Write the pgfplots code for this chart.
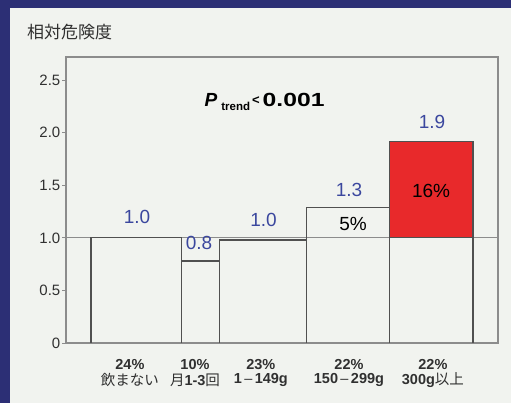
\documentclass[border=0pt]{standalone}
\usepackage{pgfplots}
\pgfplotsset{compat=1.18}
\usepackage{fontspec}
\setmainfont{Liberation Sans}
\newfontfamily\jp{Noto Sans CJK JP}
\definecolor{navy}{HTML}{2C2F75}
\definecolor{panel}{HTML}{F1F3EF}
\definecolor{framegray}{HTML}{8C8C8C}
\definecolor{bargray}{HTML}{505050}
\definecolor{darktext}{HTML}{303030}
\definecolor{valblue}{HTML}{3B479E}
\definecolor{barred}{HTML}{E8292B}
\begin{document}
\begin{tikzpicture}
\fill[navy] (0,0) rectangle (511pt,403pt);
\fill[panel] (10pt,0) rectangle (511pt,395pt);
\useasboundingbox (0,0) rectangle (511pt,403pt);
\node[anchor=west, font=\jp\fontsize{17}{17}\selectfont, text=darktext, inner sep=0pt] at (27pt,371pt) {相対危険度};
\begin{axis}[
  at={(66pt,60pt)}, anchor=south west, scale only axis,
  width=432pt, height=286pt,
  xmin=-6.6, xmax=107.6, ymin=0, ymax=2.72,
  axis line style={draw=framegray, line width=1.2pt},
  xtick=\empty,
  ytick={0,0.5,1,1.5,2,2.5},
  yticklabels={0,0.5,1.0,1.5,2.0,2.5},
  ytick pos=left, tick align=outside, major tick length=4pt,
  tick style={framegray, line width=0.8pt},
  yticklabel style={font=\fontsize{15}{15}\selectfont, text=darktext, inner xsep=1.5pt},
  /pgf/number format/assume math mode=true,
  clip=false,
]
\addplot[draw=framegray, line width=1pt] coordinates {(-6.6,1) (107.6,1)};
\addplot[draw=bargray, line width=1.2pt] coordinates {(0,0) (0,1.0) (24,1.0) (24,0)};
\addplot[draw=bargray, line width=1.2pt] coordinates {(24,0) (24,0.78) (34,0.78) (34,0)};
\addplot[draw=bargray, line width=1.2pt] coordinates {(34,0) (34,0.98) (57,0.98) (57,0)};
\addplot[draw=bargray, line width=1.2pt] coordinates {(57,0) (57,1.29) (79,1.29) (79,0)};
\addplot[draw=bargray, line width=1.2pt] coordinates {(79,0) (79,1.0) (101,1.0) (101,0)};
\addplot[draw=bargray, fill=barred, line width=1.2pt] coordinates {(79,1.0) (79,1.92) (101,1.92) (101,1.0)} -- cycle;

\begin{scope}[every node/.style={text=valblue, font=\fontsize{19}{19}\selectfont}]
\node at (axis cs:12.17,1.194) {1.0};
\node at (axis cs:28.56,0.956) {0.8};
\node at (axis cs:45.6,1.166) {1.0};
\node at (axis cs:68.2,1.46) {1.3};
\node at (axis cs:90.15,2.103) {1.9};
\end{scope}
\node[font=\fontsize{19}{19}\selectfont, text=black] at (axis cs:69.27,1.127) {5\%};
\node[font=\fontsize{19}{19}\selectfont, text=black] at (axis cs:89.9,1.446) {16\%};

\node[font=\bfseries\fontsize{19}{19}\selectfont, text=black] at (axis cs:45.9,2.293)
  {\textit{P}\kern4pt\raisebox{-0.45ex}{\fontsize{11.5}{11.5}\selectfont trend}\kern2pt{\fontsize{13}{13}\selectfont\raisebox{0.3ex}{<}}\kern3pt\scalebox{1.3}[1]{0.001}};

\begin{scope}[every node/.style={font=\bfseries\fontsize{14.5}{14.5}\selectfont, text=darktext}]
\node at (axis cs:10.3,-0.2) {24\%};
\node at (axis cs:27.5,-0.2) {10\%};
\node at (axis cs:44.9,-0.2) {23\%};
\node at (axis cs:68.2,-0.2) {22\%};
\node at (axis cs:90.4,-0.2) {22\%};
\node at (axis cs:10.3,-0.352) {{\jp\mdseries 飲まない}};
\node at (axis cs:27.5,-0.352) {{\jp\mdseries 月}1-3{\jp\mdseries 回}};
\node at (axis cs:44.9,-0.352) {1\,{\mdseries \textendash}\,149g};
\node at (axis cs:68.2,-0.352) {150\,{\mdseries \textendash}\,299g};
\node at (axis cs:90.4,-0.352) {300g{\jp\mdseries 以上}};
\end{scope}
\end{axis}
\end{tikzpicture}
\end{document}
